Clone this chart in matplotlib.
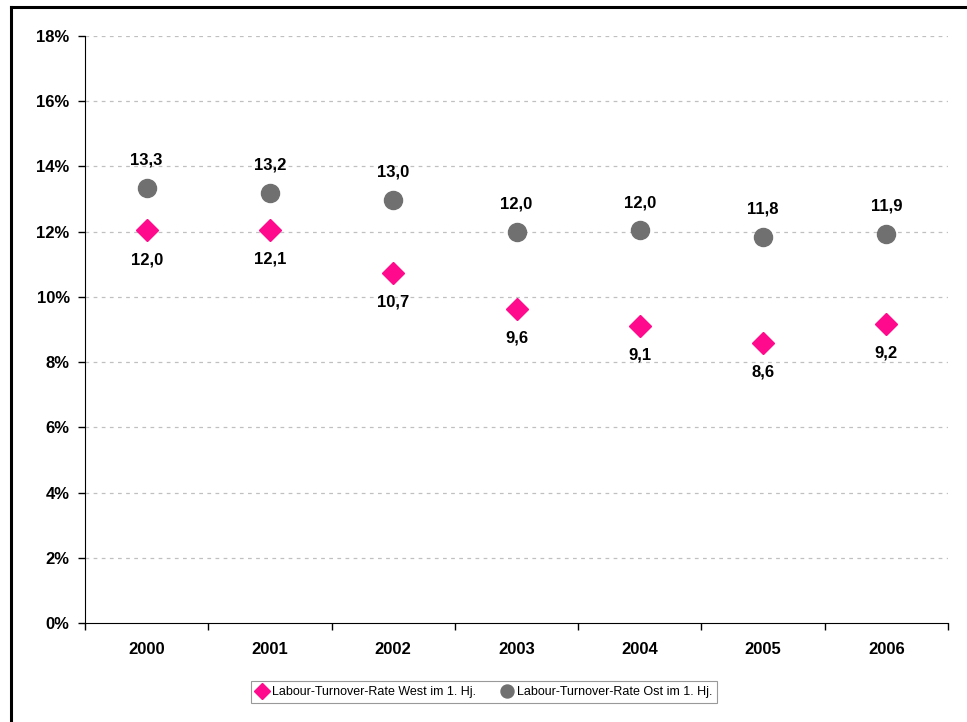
import matplotlib
matplotlib.use('Agg')
import matplotlib.pyplot as plt
from matplotlib.lines import Line2D
from matplotlib.ticker import FixedLocator, NullFormatter

plt.rcParams['font.family'] = ['Liberation Sans', 'DejaVu Sans']

years = ['2000', '2001', '2002', '2003', '2004', '2005', '2006']
west = [12.04, 12.06, 10.74, 9.62, 9.12, 8.59, 9.18]
ost = [13.34, 13.19, 12.98, 11.99, 12.04, 11.83, 11.92]
west_lbl = ['12,0', '12,1', '10,7', '9,6', '9,1', '8,6', '9,2']
ost_lbl = ['13,3', '13,2', '13,0', '12,0', '12,0', '11,8', '11,9']
yticks = [0, 2, 4, 6, 8, 10, 12, 14, 16, 18]

PINK = '#FF0A8C'
GREY = '#707070'

fig = plt.figure(figsize=(9.67, 7.22), dpi=100)
ax = fig.add_axes([85/967, 99/722, 863/967, 587/722])

x = list(range(len(years)))
ax.plot(x, west, linestyle='none', marker='D', markersize=11, color=PINK,
        label='Labour-Turnover-Rate West im 1. Hj.', zorder=3)
ax.plot(x, ost, linestyle='none', marker='o', markersize=13, color=GREY,
        label='Labour-Turnover-Rate Ost im 1. Hj.', zorder=3)

for i in x:
    ax.annotate(west_lbl[i], (i, west[i]), xytext=(0, -21), textcoords='offset points',
                ha='center', va='center', fontsize=12, fontweight='bold')
    ax.annotate(ost_lbl[i], (i, ost[i]), xytext=(0, 20), textcoords='offset points',
                ha='center', va='center', fontsize=12, fontweight='bold')

ax.set_xlim(-0.5, len(years) - 0.5)
ax.set_ylim(0, 18)
ax.set_yticks(yticks)
ax.set_yticklabels([f'{v}%' for v in yticks], fontsize=12, fontweight='bold')
ax.set_xticks(x)
ax.set_xticklabels(years, fontsize=12, fontweight='bold')
ax.tick_params(axis='x', which='major', length=0, pad=14)
ax.xaxis.set_minor_locator(FixedLocator([i - 0.5 for i in range(len(years) + 1)]))
ax.xaxis.set_minor_formatter(NullFormatter())
ax.tick_params(axis='x', which='minor', length=5, direction='out', width=1)
ax.tick_params(axis='y', length=5, direction='out', width=1, pad=6)

for v in yticks[1:]:
    ax.axhline(v, color='#c0c0c0', linestyle=(0, (3, 3.5)), linewidth=0.9, zorder=1)

for s in ['top', 'right']:
    ax.spines[s].set_visible(False)
ax.spines['left'].set_color('black')
ax.spines['bottom'].set_color('black')

leg = fig.legend(loc='center', bbox_to_anchor=(484/967, 1 - 692/722), ncol=2,
                 fontsize=9, frameon=True, fancybox=False, handletextpad=0.3,
                 columnspacing=2.0, borderpad=0.4, handlelength=1.0, markerscale=0.72)
leg.get_frame().set_edgecolor('#808080')
leg.get_frame().set_linewidth(0.8)

# outer frame (left and top edge visible)
fig.add_artist(Line2D([11/967, 11/967], [0, 1 - 7/722], color='black', linewidth=2.2,
                      transform=fig.transFigure))
fig.add_artist(Line2D([11/967, 1], [1 - 7/722, 1 - 7/722], color='black', linewidth=2.2,
                      transform=fig.transFigure))

fig.savefig('out.png', dpi=100)
